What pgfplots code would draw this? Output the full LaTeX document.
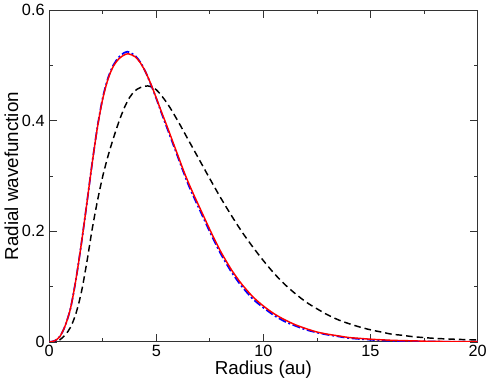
\documentclass[border=0pt]{standalone}
\usepackage{pgfplots}
\pgfplotsset{compat=1.18}
\usepackage{fontspec}
\setmainfont{Liberation Sans}

\pgfplotstableread{
r v
0.0 0.000
0.25 0.000
0.5 0.004
0.75 0.013
1.0 0.027
1.25 0.052
1.5 0.090
1.75 0.143
2.0 0.203
2.25 0.255
2.5 0.300
2.75 0.337
3.0 0.369
3.25 0.398
3.5 0.423
3.75 0.442
4.0 0.454
4.25 0.460
4.6 0.463
5.0 0.456
5.5 0.432
6.0 0.400
6.5 0.365
7.0 0.330
7.5 0.295
8.0 0.261
8.5 0.229
9.0 0.199
9.5 0.172
10.0 0.147
10.5 0.124
11.0 0.104
11.5 0.087
12.0 0.072
12.5 0.060
13.0 0.049
13.5 0.040
14.0 0.033
14.5 0.027
15.0 0.022
15.5 0.018
16.0 0.014
16.5 0.012
17.0 0.0095
18.0 0.0065
19.0 0.0048
20.0 0.0036
}\dashedcurve

\pgfplotstableread{
r v
0.0 0.000
0.25 0.002
0.5 0.010
0.75 0.030
1.0 0.062
1.25 0.114
1.5 0.178
1.75 0.249
2.0 0.322
2.25 0.389
2.5 0.442
2.75 0.478
3.0 0.501
3.25 0.515
3.5 0.523
3.65 0.525
4.0 0.518
4.25 0.506
4.5 0.488
4.75 0.465
5.0 0.440
5.25 0.413
5.5 0.387
5.75 0.361
6.0 0.335
6.25 0.309
6.5 0.284
6.75 0.262
7.0 0.241
7.25 0.220
7.5 0.199
7.75 0.179
8.0 0.160
8.25 0.143
8.5 0.127
8.75 0.113
9.0 0.100
9.5 0.078
10.0 0.062
10.5 0.048
11.0 0.037
11.5 0.029
12.0 0.022
12.5 0.017
13.0 0.013
13.5 0.010
14.0 0.007
15.0 0.004
16.0 0.002
17.0 0.001
18.0 0.0007
20.0 0.0003
}\bluecurve

\pgfplotstableread{
r v
0.0 0.000
0.25 0.002
0.5 0.010
0.75 0.030
1.0 0.062
1.25 0.114
1.5 0.178
1.75 0.249
2.0 0.322
2.25 0.388
2.5 0.440
2.75 0.476
3.0 0.499
3.25 0.512
3.5 0.519
3.7 0.521
4.0 0.516
4.25 0.505
4.5 0.488
4.75 0.466
5.0 0.441
5.25 0.415
5.5 0.390
5.75 0.364
6.0 0.338
6.25 0.312
6.5 0.288
6.75 0.266
7.0 0.245
7.25 0.224
7.5 0.203
7.75 0.183
8.0 0.164
8.25 0.147
8.5 0.131
8.75 0.117
9.0 0.104
9.5 0.082
10.0 0.065
10.5 0.051
11.0 0.040
11.5 0.031
12.0 0.024
12.5 0.018
13.0 0.014
13.5 0.011
14.0 0.008
14.5 0.0065
15.0 0.005
16.0 0.003
17.0 0.002
18.0 0.001
20.0 0.0005
}\redcurve

\begin{document}
\begin{tikzpicture}
\begin{axis}[
    scale only axis,
    width=324pt,
    height=251pt,
    xmin=0, xmax=20,
    ymin=0, ymax=0.6,
    xtick={0,5,10,15,20},
    ytick={0,0.2,0.4,0.6},
    yticklabels={0,0.2,0.4,0.6},
    minor x tick num=1,
    minor y tick num=1,
    tick align=inside,
    major tick length=6pt,
    minor tick length=3pt,
    axis line style={black!80, line width=0.8pt},
    tick style={black!80, line width=0.6pt},
    /pgf/number format/assume math mode=true,
    tick label style={font=\fontsize{12.3}{14}\selectfont},
    label style={font=\fontsize{14.2}{16}\selectfont},
    xlabel={Radius (au)},
    ylabel={Radial wavefunction},
    xlabel style={yshift=4pt},
    ylabel style={yshift=-4pt},
    xticklabel style={yshift=1pt},
]
\addplot[black, line width=1.1pt, dash pattern=on 5pt off 3pt, smooth] table[x=r, y=v] {\dashedcurve};
\addplot[blue, line width=1.3pt, dash pattern=on 6pt off 2pt on 1.5pt off 2pt, smooth] table[x=r, y=v] {\bluecurve};
\addplot[red, line width=1.1pt, smooth] table[x=r, y=v] {\redcurve};
\end{axis}
\end{tikzpicture}
\end{document}
